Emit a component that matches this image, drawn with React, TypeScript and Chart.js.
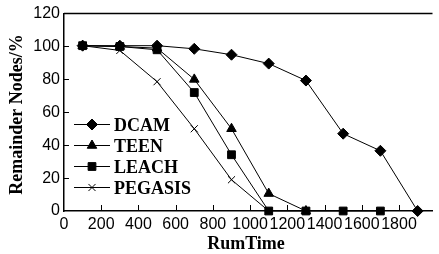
import React, { useEffect, useRef } from 'react';
import { Chart, registerables } from 'chart.js';
import { drawPoint } from 'chart.js/helpers';

Chart.register(...registerables);

const seriesNames = ['DCAM', 'TEEN', 'LEACH', 'PEGASIS'];
const rounds = [100, 300, 500, 700, 900, 1100, 1300, 1500, 1700, 1900];
const dcamValues = [100.5, 100.5, 100.5, 98.6, 95, 89.6, 79.3, 47, 36.6, 0];
const teenValues = [100.5, 100, 99, 80, 50, 10.6, 0];
const leachValues = [100.5, 100, 98, 72, 34.2, 0, 0, 0, 0];
const pegasisValues = [100.5, 97.6, 78.6, 50, 19, 0];
const xTickValues = [0, 200, 400, 600, 800, 1000, 1200, 1400, 1600, 1800];
const yTickValues = [0, 20, 40, 60, 80, 100, 120];
const xTitle = 'RumTime';
const yTitle = 'Remainder Nodes/%';

const pointStyles = ['rectRot', 'triangle', 'rect', 'crossRot'];
const pointRadii = [5.5, 5.5, 5.5, 5];

const toPoints = (vals: number[]) => vals.map((v, i) => ({ x: rounds[i], y: v }));

const overlayPlugin = {
  id: 'overlay',
  afterDraw(chart: any) {
    const { ctx, chartArea: a, scales } = chart;
    const xs = scales.x;
    const ys = scales.y;
    ctx.save();
    ctx.strokeStyle = '#000';
    ctx.lineWidth = 1.5;
    ctx.beginPath();
    ctx.moveTo(a.left, a.top);
    ctx.lineTo(a.right, a.top);
    ctx.stroke();

    ctx.lineWidth = 1;
    ctx.beginPath();
    xTickValues.forEach((v) => {
      if (v === 0) return;
      const px = Math.round(xs.getPixelForValue(v)) + 0.5;
      ctx.moveTo(px, a.bottom);
      ctx.lineTo(px, a.bottom - 6);
    });
    yTickValues.forEach((v) => {
      if (v === 0 || v === 120) return;
      const py = Math.round(ys.getPixelForValue(v)) + 0.5;
      ctx.moveTo(a.left, py);
      ctx.lineTo(a.left + 5, py);
    });
    ctx.stroke();

    ctx.fillStyle = '#000';
    ctx.font = 'bold 18px "Liberation Serif"';
    ctx.textAlign = 'center';
    ctx.textBaseline = 'alphabetic';
    ctx.fillText(xTitle, 246, 249);
    ctx.save();
    ctx.translate(21.5, 114.5);
    ctx.rotate(-Math.PI / 2);
    ctx.fillText(yTitle, 0, 0);
    ctx.restore();

    // legend
    ctx.textAlign = 'left';
    seriesNames.forEach((name, i) => {
      const ly = 124.5 + i * 21;
      ctx.strokeStyle = '#000';
      ctx.lineWidth = 1;
      ctx.beginPath();
      ctx.moveTo(74, ly);
      ctx.lineTo(110, ly);
      ctx.stroke();
      ctx.fillStyle = '#000';
      drawPoint(ctx, { pointStyle: pointStyles[i], radius: pointRadii[i], borderWidth: 1, rotation: 0 } as any, 92, ly);
      ctx.fillStyle = '#000';
      ctx.fillText(name, 114, ly + 6.3);
    });
    ctx.restore();
  },
};

export default function App() {
  const ref = useRef<HTMLCanvasElement>(null);
  useEffect(() => {
    document.body.style.margin = '0';
    const canvas = ref.current!;
    const seriesData = [dcamValues, teenValues, leachValues, pegasisValues];
    const orders = [1, 2, 0, 3];
    const chart = new Chart(canvas, {
      type: 'line',
      data: {
        datasets: seriesNames.map((name, i) => ({
          label: name,
          data: toPoints(seriesData[i]),
          borderColor: '#000',
          backgroundColor: '#000',
          borderWidth: 1,
          pointStyle: pointStyles[i] as any,
          pointRadius: pointRadii[i],
          pointBorderWidth: 1,
          pointBorderColor: '#000',
          pointBackgroundColor: '#000',
          tension: 0,
          clip: false as any,
          order: orders[i],
        })),
      },
      options: {
        animation: false,
        responsive: false,
        devicePixelRatio: 1,
        layout: { padding: { top: 11, right: 0, left: 0, bottom: 0 } },
        plugins: {
          legend: { display: false },
          tooltip: { enabled: false },
        },
        scales: {
          x: {
            type: 'linear',
            min: 0,
            max: 1980,
            afterBuildTicks: (s: any) => {
              s.ticks = xTickValues.map((v) => ({ value: v }));
            },
            afterFit: (s: any) => {
              s.height = 43;
              s.paddingLeft = 0;
              s.paddingRight = 0;
            },
            grid: { drawOnChartArea: false, drawTicks: false },
            border: { display: true, color: '#000', width: 1.5 },
            ticks: {
              padding: 4,
              color: '#000',
              maxRotation: 0,
              autoSkip: false,
              callback: (v: any) => String(v),
              font: { family: '"Liberation Sans"', size: 16 },
            },
          },
          y: {
            type: 'linear',
            min: 0,
            max: 120,
            afterBuildTicks: (s: any) => {
              s.ticks = yTickValues.map((v) => ({ value: v }));
            },
            afterFit: (s: any) => {
              s.width = 64;
            },
            grid: { drawOnChartArea: false, drawTicks: false },
            border: { display: true, color: '#000', width: 1.5 },
            ticks: {
              padding: 4,
              color: '#000',
              callback: (v: any) => String(v),
              font: { family: '"Liberation Sans"', size: 16 },
            },
          },
        },
      },
      plugins: [overlayPlugin],
    });
    return () => chart.destroy();
  }, []);
  return (
    <div style={{ width: 439, height: 254 }}>
      <canvas ref={ref} width={439} height={254} style={{ display: 'block' }} />
    </div>
  );
}
